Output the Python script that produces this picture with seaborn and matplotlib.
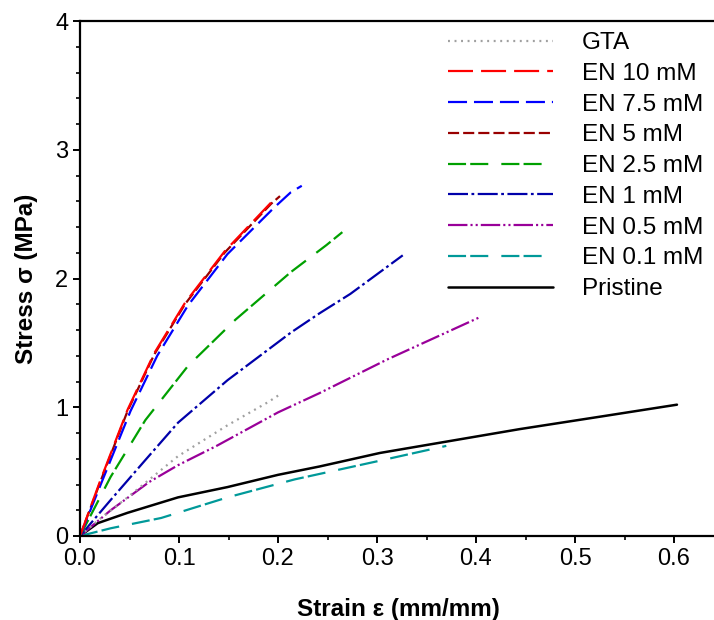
import numpy as np
import pandas as pd
import matplotlib
matplotlib.use("Agg")
import matplotlib.pyplot as plt
from matplotlib.ticker import MultipleLocator
import seaborn as sns

# --- Daten ---
labels = ['GTA', 'EN 10 mM', 'EN 7.5 mM', 'EN 5 mM', 'EN 2.5 mM',
          'EN 1 mM', 'EN 0.5 mM', 'EN 0.1 mM', 'Pristine']

strain_gta = [0, 0.018, 0.048, 0.099, 0.149, 0.19, 0.204]
stress_gta = [0, 0.12, 0.30, 0.62, 0.86, 1.04, 1.11]

strain_en10 = [0, 0.02, 0.048, 0.075, 0.106, 0.146, 0.193]
stress_en10 = [0, 0.42, 0.98, 1.42, 1.81, 2.21, 2.59]

strain_en75 = [0, 0.022, 0.051, 0.078, 0.109, 0.149, 0.196, 0.213, 0.224]
stress_en75 = [0, 0.42, 0.97, 1.40, 1.79, 2.19, 2.55, 2.67, 2.72]

strain_en5 = [0, 0.02, 0.048, 0.075, 0.106, 0.146, 0.193, 0.202]
stress_en5 = [0, 0.41, 0.97, 1.41, 1.80, 2.20, 2.58, 2.64]

strain_en25 = [0, 0.031, 0.066, 0.109, 0.157, 0.213, 0.249, 0.265]
stress_en25 = [0, 0.46, 0.90, 1.32, 1.68, 2.05, 2.26, 2.36]

strain_en1 = [0, 0.031, 0.066, 0.099, 0.149, 0.213, 0.242, 0.273, 0.326]
stress_en1 = [0, 0.28, 0.59, 0.88, 1.21, 1.58, 1.73, 1.88, 2.18]

strain_en05 = [0, 0.031, 0.07, 0.099, 0.138, 0.2, 0.242, 0.31, 0.404]
stress_en05 = [0, 0.20, 0.42, 0.55, 0.70, 0.96, 1.11, 1.37, 1.70]

strain_en01 = [0, 0.031, 0.082, 0.149, 0.217, 0.3, 0.37]
stress_en01 = [0, 0.06, 0.14, 0.30, 0.44, 0.58, 0.70]

strain_pristine = [0, 0.018, 0.048, 0.099, 0.149, 0.2, 0.242, 0.303, 0.444, 0.528, 0.603]
stress_pristine = [0, 0.10, 0.18, 0.30, 0.38, 0.475, 0.54, 0.645, 0.83, 0.93, 1.02]

strains = [strain_gta, strain_en10, strain_en75, strain_en5, strain_en25,
           strain_en1, strain_en05, strain_en01, strain_pristine]
stresses = [stress_gta, stress_en10, stress_en75, stress_en5, stress_en25,
            stress_en1, stress_en05, stress_en01, stress_pristine]

# --- Stil ---
colors = ['#a0a0a0', '#ff0000', '#0000ff', '#990000', '#00a000',
          '#0000aa', '#990099', '#009999', '#000000']
styles = [(0, (1.4, 3.3)),
          (0, (18, 5.8)),
          (0, (13.7, 5)),
          (0, (8, 2.9)),
          (0, (13, 3, 13, 9.4)),
          (0, (14.4, 2.5, 2, 2.5)),
          (0, (14, 2.2, 1.5, 2.2, 1.5, 2.2)),
          (0, (13, 3, 13, 9.4)),
          '-']
widths = [1.6, 1.6, 1.6, 1.6, 1.6, 1.6, 1.6, 1.6, 1.8]

sns.set_style('ticks')
plt.rcParams['font.family'] = ['Liberation Sans', 'DejaVu Sans']
plt.rcParams['lines.scale_dashes'] = False
plt.rcParams['text.color'] = 'black'
plt.rcParams['axes.labelcolor'] = 'black'

fig = plt.figure(figsize=(7.14, 6.2), dpi=100)
ax = fig.add_axes([80 / 714, 84 / 620, 636 / 714, 515 / 620])

handles = {}
for i in reversed(range(len(labels))):
    df = pd.DataFrame({'strain': strains[i], 'stress': stresses[i]})
    sns.lineplot(data=df, x='strain', y='stress', ax=ax, color=colors[i],
                 linestyle=styles[i], linewidth=widths[i], sort=False,
                 estimator=None, errorbar=None)
    handles[labels[i]] = ax.get_lines()[-1]

ax.set_xlim(0, 636 / 990)
ax.set_ylim(0, 4)
ax.xaxis.set_major_locator(MultipleLocator(0.1))
ax.xaxis.set_minor_locator(MultipleLocator(0.05))
ax.yaxis.set_major_locator(MultipleLocator(1))
ax.yaxis.set_minor_locator(MultipleLocator(0.2))
ax.set_xticklabels([f'{v:.1f}' for v in ax.get_xticks()])
ax.set_yticklabels([f'{v:.0f}' for v in ax.get_yticks()])
ax.tick_params(which='major', direction='out', length=5, width=1.4, labelsize=17, colors='black')
ax.tick_params(which='minor', direction='out', length=3, width=1.2, colors='black')
for side in ['left', 'bottom', 'top']:
    ax.spines[side].set_linewidth(1.6)
    ax.spines[side].set_color('black')
ax.spines['right'].set_visible(False)

ax.set_xlabel('Strain ε (mm/mm)', fontsize=17.5, fontweight='bold', labelpad=20)
ax.set_ylabel('Stress σ (MPa)', fontsize=17.5, fontweight='bold', labelpad=12)

ax.legend([handles[l] for l in labels], labels, loc='upper left',
          bbox_to_anchor=((448 - 80) / 636, 1 - 11 / 515), frameon=False,
          fontsize=17.5, handlelength=4.3, handletextpad=1.2,
          labelspacing=0.36, borderpad=0, borderaxespad=0)

fig.savefig('out.png', dpi=100)
